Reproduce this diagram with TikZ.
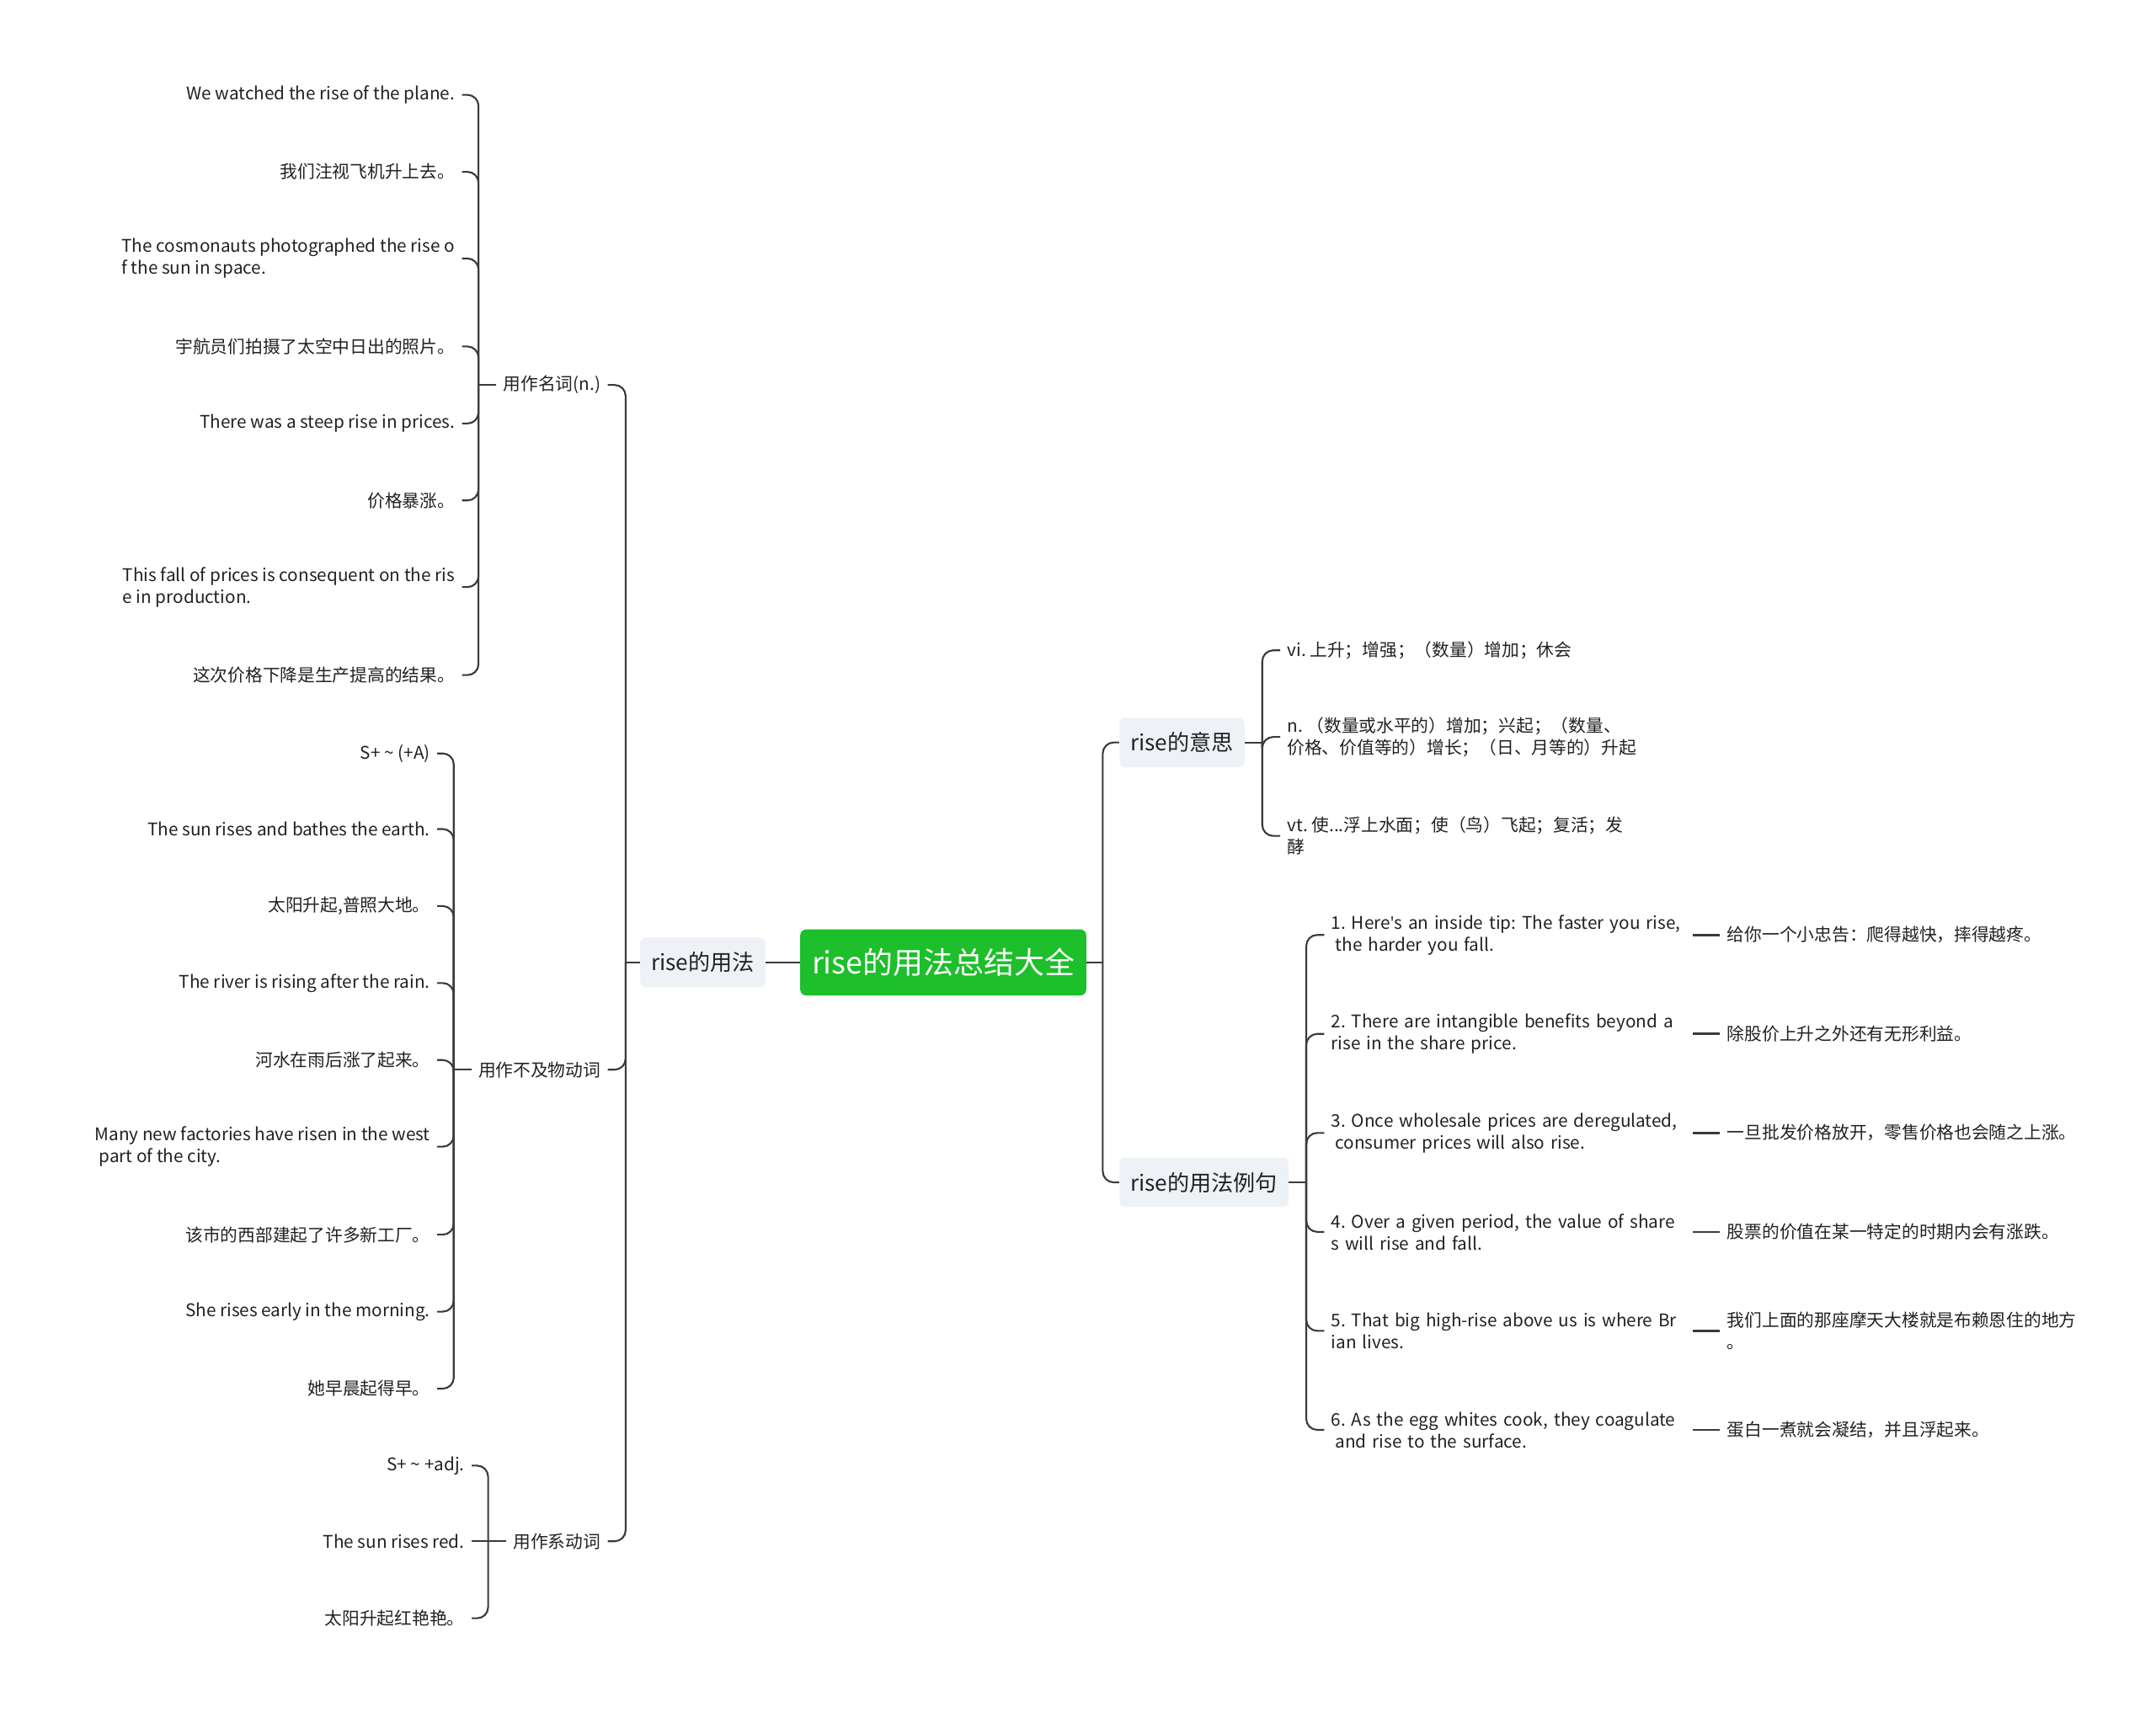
\documentclass[tikz,border=0pt]{standalone}
\usepackage{fontspec}
\setmainfont{Noto Sans CJK SC}
\newfontfamily\latinfont{Open Sans}
\usepackage{xcolor}
\definecolor{Ink}{HTML}{222222}
\definecolor{Wire}{HTML}{3A3A3A}
\definecolor{Green}{HTML}{1DBF2B}
\definecolor{Topic}{HTML}{EEF1F5}
\usepackage{tikz}
\usetikzlibrary{positioning,calc}
\frenchspacing
\tikzset{
  root/.style={fill=Green,rounded corners=1.5mm,minimum height=48pt,minimum width=208pt,
    text=white,font=\fontsize{22}{26}\selectfont,inner sep=2pt},
  topic/.style={fill=Topic,rounded corners=1.5mm,minimum height=36pt,text=Ink,
    font=\fontsize{16}{20}\selectfont,inner xsep=8pt},
  label/.style={text=Ink,font=\fontsize{12.7}{16}\selectfont,inner sep=5pt},
  leaf/.style={text=Ink,font=\fontsize{12.7}{16}\selectfont,inner sep=5pt,align=left},
  example/.style={leaf,text width=258pt},
  link/.style={draw=Wire,line width=1.3pt,rounded corners=8pt},
  stub/.style={draw=Wire,line width=1.6pt}
}

\begin{document}
\begin{tikzpicture}[x=1pt,y=-1pt]
\fill[white] (0,0) rectangle (1568,1245);
% centre and first level
\node[root] (main) at (686,700) {rise的用法总结大全};
\node[topic,left=25pt of main] (use) {rise的用法};
\node[topic,anchor=west] (mean) at (814,540) {rise的意思};
\node[topic,anchor=west] (demo) at (814,860) {rise的用法例句};
% second level, left
\node[label,anchor=east] (noun) at (442,280) {用作名词(n.)};
\node[label,anchor=east] (intr) at (442,778) {用作不及物动词};
\node[label,anchor=east] (cop) at (442,1121) {用作系动词};
% joints
\coordinate (mainJ) at (802,700);
\coordinate (useJ) at (455,700);
\coordinate (meanJ) at (918,540);
\coordinate (demoJ) at (950,860);
\coordinate (nounJ) at (348,280);
\coordinate (intrJ) at (330,778);
\coordinate (copJ) at (355,1121);
% noun
\node[leaf,anchor=east] (n1) at (336,69) {We watched the rise of the plane.};
\node[leaf,anchor=east] (n2) at (336,125) {我们注视飞机升上去。};
\node[leaf,anchor=east] (n3) at (336,188) {The cosmonauts photographed the rise o\\f the sun in space.};
\node[leaf,anchor=east] (n4) at (336,252) {宇航员们拍摄了太空中日出的照片。};
\node[leaf,anchor=east] (n5) at (336,308) {There was a steep rise in prices.};
\node[leaf,anchor=east] (n6) at (336,364) {价格暴涨。};
\node[leaf,anchor=east] (n7) at (336,427) {This fall of prices is consequent on the ris\\e in production.};
\node[leaf,anchor=east] (n8) at (336,491) {这次价格下降是生产提高的结果。};
% intransitive
\node[leaf,anchor=east] (i1) at (318,548) {S+ \textasciitilde\ (+A)};
\node[leaf,anchor=east] (i2) at (318,603) {The sun rises and bathes the earth.};
\node[leaf,anchor=east] (i3) at (318,659) {太阳升起,普照大地。};
\node[leaf,anchor=east] (i4) at (318,715) {The river is rising after the rain.};
\node[leaf,anchor=east] (i5) at (318,771) {河水在雨后涨了起来。};
\node[leaf,anchor=east] (i6) at (318,834) {Many new factories have risen in the west\\\hspace*{3pt}part of the city.};
\node[leaf,anchor=east] (i7) at (318,898) {该市的西部建起了许多新工厂。};
\node[leaf,anchor=east] (i8) at (318,954) {She rises early in the morning.};
\node[leaf,anchor=east] (i9) at (318,1010) {她早晨起得早。};
% copula
\node[leaf,anchor=east] (c1) at (343,1066) {S+ \textasciitilde\ +adj.};
\node[leaf,anchor=east] (c2) at (343,1121) {The sun rises red.};
\node[leaf,anchor=east] (c3) at (343,1177) {太阳升起红艳艳。};
% meanings
\node[leaf,anchor=west] (m1) at (931,473) {vi. 上升；增强；（数量）增加；休会};
\node[leaf,anchor=west] (m2) at (931,536) {n. （数量或水平的）增加；兴起；（数量、\\价格、价值等的）增长；（日、月等的）升起};
\node[leaf,anchor=west] (m3) at (931,608) {vt. 使...浮上水面；使（鸟）飞起；复活；发\\酵};
% examples
\node[example,anchor=west] (d1) at (963,680) {1. Here{\latinfont'}s an inside tip: The faster you rise,\\\hspace*{3pt}the harder you fall.};
\node[example,anchor=west] (d2) at (963,752) {2. There are intangible benefits beyond a\\rise in the share price.};
\node[example,anchor=west] (d3) at (963,824) {3. Once wholesale prices are deregulated,\\\hspace*{3pt}consumer prices will also rise.};
\node[example,anchor=west] (d4) at (963,896) {4. Over a given period, the value of share\\s will rise and fall.};
\node[example,anchor=west] (d5) at (963,968) {5. That big high-rise above us is where Br\\ian lives.};
\node[example,anchor=west] (d6) at (963,1040) {6. As the egg whites cook, they coagulate\\\hspace*{3pt}and rise to the surface.};
\node[leaf,anchor=west] (t1) at (1251,680) {给你一个小忠告：爬得越快，摔得越疼。};
\node[leaf,anchor=west] (t2) at (1251,752) {除股价上升之外还有无形利益。};
\node[leaf,anchor=west] (t3) at (1251,824) {一旦批发价格放开，零售价格也会随之上涨。};
\node[leaf,anchor=west] (t4) at (1251,896) {股票的价值在某一特定的时期内会有涨跌。};
\node[leaf,anchor=west] (t5) at (1251,968) {我们上面的那座摩天大楼就是布赖恩住的地方\\。};
\node[leaf,anchor=west] (t6) at (1251,1040) {蛋白一煮就会凝结，并且浮起来。};
% connectors
\draw[link] (main.west) -- (use.east);
\draw[link] (main.east) -- (mainJ);
\draw[link] (mainJ) |- (mean.west);
\draw[link] (mainJ) |- (demo.west);
\draw[link] (use.west) -- (useJ);
\foreach \n in {noun,intr,cop} \draw[link] (useJ) |- (\n.east);
\draw[link] (noun.west) -- (nounJ);
\foreach \i in {1,...,8} \draw[link] (nounJ) |- (n\i.east);
\draw[link] (intr.west) -- (intrJ);
\foreach \i in {1,...,9} \draw[link] (intrJ) |- (i\i.east);
\draw[link] (cop.west) -- (copJ);
\draw[link] (copJ) |- (c1.east);
\draw[link] (copJ) -- (c2.east);
\draw[link] (copJ) |- (c3.east);
\draw[link] (mean.east) -- (meanJ);
\foreach \i in {1,2,3} \draw[link] (meanJ) |- (m\i.west);
\draw[link] (demo.east) -- (demoJ);
\foreach \i in {1,...,6} \draw[link] (demoJ) |- (d\i.west);
\foreach \i in {1,...,6} \draw[stub] (d\i.east) -- (t\i.west);
\end{tikzpicture}
\end{document}
